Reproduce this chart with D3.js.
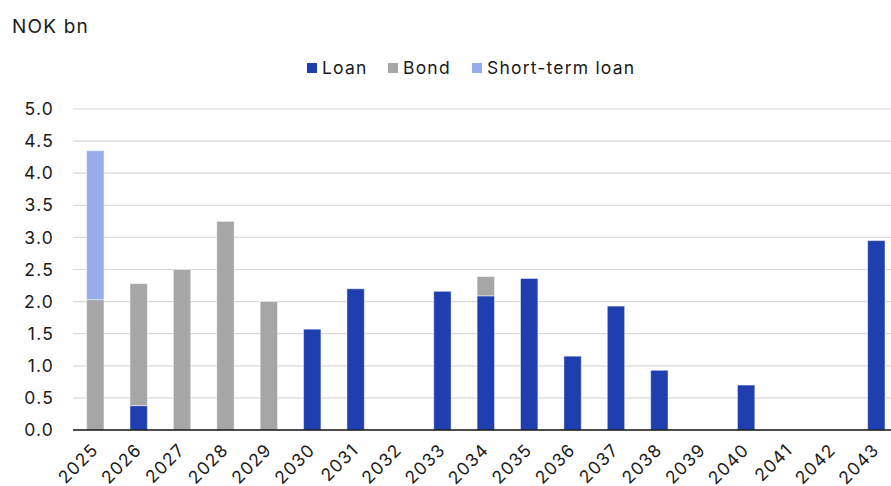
<!DOCTYPE html>
<html>
<head>
<meta charset="utf-8">
<script src="https://cdn.jsdelivr.net/npm/d3@7"></script>
<style>
  body { margin: 0; background: #fff; }
  text { font-family: Inter, "Noto Sans", sans-serif; fill: #1a1a1a; letter-spacing: 1.2px; }
</style>
</head>
<body>
<div id="chart"></div>
<script>
const years = ["2025","2026","2027","2028","2029","2030","2031","2032","2033","2034",
  "2035","2036","2037","2038","2039","2040","2041","2042","2043"];
const loan      = [0, 0.38, 0, 0, 0, 1.57, 2.2, 0, 2.16, 2.09, 2.36, 1.15, 1.93, 0.93, 0, 0.70, 0, 0, 2.95];
const bond      = [2.03, 1.90, 2.5, 3.25, 2.0, 0, 0, 0, 0, 0.30, 0, 0, 0, 0, 0, 0, 0, 0, 0];
const shortTerm = [2.32, 0, 0, 0, 0, 0, 0, 0, 0, 0, 0, 0, 0, 0, 0, 0, 0, 0, 0];
const yTicks = [0, 0.5, 1, 1.5, 2, 2.5, 3, 3.5, 4, 4.5, 5];

const seriesNames = ["Loan", "Bond", "Short-term loan"];
const colors = ["#1f3fb0", "#a6a6a6", "#98abeb"];

const width = 891, height = 486;
const svg = d3.select("#chart").append("svg")
  .attr("width", width).attr("height", height);

const rows = years.map((y, i) => ({year: y, Loan: loan[i], Bond: bond[i], "Short-term loan": shortTerm[i]}));
const stacked = d3.stack().keys(seriesNames)(rows);

const x = d3.scaleBand().domain(years).range([73.6, 898]).paddingInner(0.6).paddingOuter(0.3);
const y = d3.scaleLinear().domain([0, 5]).range([430, 109]);

// gridlines
svg.append("g").selectAll("line")
  .data(yTicks.filter(d => d > 0))
  .enter().append("line")
  .attr("x1", 73).attr("x2", width)
  .attr("y1", d => y(d)).attr("y2", d => y(d))
  .style("stroke", "#d9d9d9").style("stroke-width", 1.2);

// y labels
svg.append("g").selectAll("text")
  .data(yTicks)
  .enter().append("text")
  .attr("x", 54).attr("y", d => y(d))
  .attr("dy", "0.35em")
  .attr("text-anchor", "end")
  .style("font-size", "17.5px")
  .text(d => d.toFixed(1));

// bars
svg.append("g").selectAll("g")
  .data(stacked)
  .enter().append("g")
  .style("fill", (d, i) => colors[i])
  .selectAll("rect")
  .data(d => d.filter(p => p[1] - p[0] > 0))
  .enter().append("rect")
  .attr("x", d => x(d.data.year))
  .attr("width", x.bandwidth())
  .attr("y", d => y(d[1]))
  .attr("height", d => y(d[0]) - y(d[1]))
  .style("stroke", "rgba(255,255,255,0.45)")
  .style("stroke-width", 1);

// x axis line
svg.append("line")
  .attr("x1", 73).attr("x2", width)
  .attr("y1", y(0)).attr("y2", y(0))
  .style("stroke", "#111").style("stroke-width", 1.5);

// x labels, rotated
svg.append("g").selectAll("text")
  .data(years)
  .enter().append("text")
  .attr("transform", d => "translate(" + (x(d) + x.bandwidth() / 2 + 4) + ",451) rotate(-45)")
  .attr("text-anchor", "end")
  .style("font-size", "17.5px")
  .text(d => d);

// unit title
svg.append("text")
  .attr("x", 12).attr("y", 33)
  .style("font-size", "19px")
  .text("NOK bn");

// legend
const legendX = [307, 388, 472];
const legend = svg.append("g").selectAll("g")
  .data(seriesNames)
  .enter().append("g")
  .attr("transform", (d, i) => "translate(" + legendX[i] + ",63)");
legend.append("rect")
  .attr("width", 10).attr("height", 10)
  .style("fill", (d, i) => colors[i]);
legend.append("text")
  .attr("x", 15).attr("y", 5)
  .attr("dy", "0.35em")
  .style("font-size", "17.5px")
  .text(d => d);
</script>
</body>
</html>
